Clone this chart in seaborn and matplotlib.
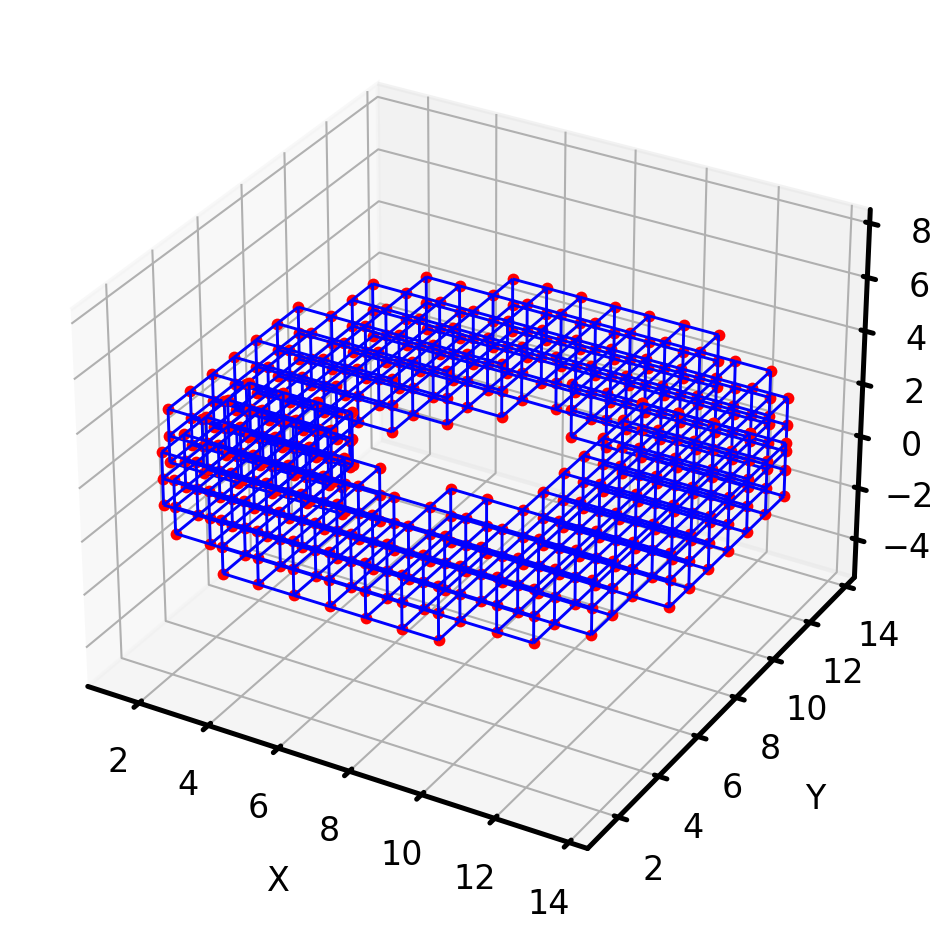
import matplotlib
matplotlib.use('Agg')
import matplotlib.pyplot as plt
import seaborn as sns
from mpl_toolkits.mplot3d.art3d import Line3DCollection

# node values along each axis, two stacked meshes
X_LOWER = [0.9, 1.9, 2.9, 3.9, 4.9, 5.9, 6.9, 7.9, 8.9, 9.9, 10.9, 11.9, 12.9, 13.9]
X_UPPER = [1.13, 2.11, 3.1, 4.08, 5.06, 6.05, 7.03, 8.01, 9.0, 9.98, 10.96, 11.95, 12.93, 13.91]
Y_VALUES = [1.5, 2.5, 3.5, 4.5, 5.5, 6.5, 7.5, 8.5, 9.5, 10.5, 11.5, 12.5, 13.5]
Z_LOWER = [-0.5, 0.5, 1.5]
Z_UPPER = [1.2, 2.2, 3.2]

# one row per y value, one column per x value
MASK_LOWER = [
    "...#######....",
    ".###########..",
    "#############.",
    "#############.",
    "######.#######",
    "####.....#####",
    "####.....#####",
    ".........#####",
    ".........#####",
    ".........#####",
    ".........#####",
    "..............",
    "..............",
]
MASK_UPPER = [
    "..............",
    "..............",
    "######........",
    "#####.........",
    "#####.........",
    "####..........",
    "#####.........",
    "######........",
    "#######.######",
    ".#############",
    ".#############",
    "..###########.",
    "....#######...",
]
XTICKS = [2, 4, 6, 8, 10, 12, 14]
YTICKS = [2, 4, 6, 8, 10, 12, 14]
ZTICKS = [-4, -2, 0, 2, 4, 6, 8]

sns.set_style("ticks")
plt.rcParams.update({
    'font.family': 'DejaVu Sans', 'font.size': 8,
    'axes.linewidth': 1.2, 'axes.edgecolor': 'black',
    'xtick.major.width': 1.2, 'ytick.major.width': 1.2,
    'grid.color': '#b0b0b0', 'grid.linewidth': 0.5,
    'xtick.color': 'black', 'ytick.color': 'black', 'text.color': 'black',
    'axes.labelcolor': 'black',
})


def mesh_parts(mask, x_vals, z_vals):
    nodes = set()
    for k in range(len(z_vals)):
        for j, row in enumerate(mask):
            for i, c in enumerate(row):
                if c == '#':
                    nodes.add((i, j, k))
    segs = []
    for (i, j, k) in nodes:
        for a, b, c in [(i + 1, j, k), (i, j + 1, k), (i, j, k + 1)]:
            if (a, b, c) in nodes:
                segs.append([(x_vals[i], Y_VALUES[j], z_vals[k]),
                             (x_vals[a], Y_VALUES[b], z_vals[c])])
    pts = [(x_vals[i], Y_VALUES[j], z_vals[k]) for (i, j, k) in sorted(nodes)]
    return pts, segs


fig = plt.figure(figsize=(950 / 300, 945 / 300), dpi=300)
ax = fig.add_axes([-10 / 950, 11 / 945, 1, 1], projection='3d')
ax.set_box_aspect(None, zoom=0.942)
for mask, x_vals, z_vals in [(MASK_LOWER, X_LOWER, Z_LOWER), (MASK_UPPER, X_UPPER, Z_UPPER)]:
    pts, segs = mesh_parts(mask, x_vals, z_vals)
    xs, ys, zs = zip(*pts)
    ax.scatter(xs, ys, zs, color='red', s=8, depthshade=False, linewidths=0)
    ax.add_collection3d(Line3DCollection(segs, colors='blue', linewidths=0.7))
ax.set_xlim(0.5, 14.5)
ax.set_ylim(0.5, 14.5)
ax.set_zlim(-5.5, 8.5)
ax.set_xticks(XTICKS)
ax.set_yticks(YTICKS)
ax.set_zticks(ZTICKS)
ax.tick_params(axis='both', pad=0)
ax.set_xlabel('X', labelpad=0)
ax.set_ylabel('Y', labelpad=0)
fig.savefig('out.png', dpi=300)
